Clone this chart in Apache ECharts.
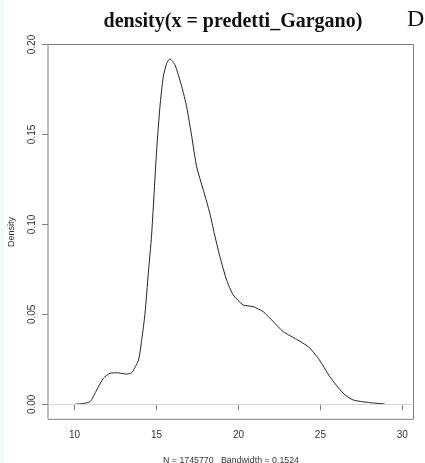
<!DOCTYPE html>
<html>
<head>
<meta charset="utf-8">
<script src="https://cdn.jsdelivr.net/npm/echarts@6/dist/echarts.min.js"></script>
<style>
  html, body { margin: 0; padding: 0; background: #fff; }
  #chart { width: 425px; height: 463px; }
</style>
</head>
<body>
<div id="chart"></div>
<script>
// density curve
var xValues = [10.0, 10.5, 10.95, 11.35, 11.76, 12.16, 12.6, 13.18, 13.49, 13.9, 14.1, 14.3, 14.5, 14.7,
  15.01, 15.21, 15.41, 15.62, 15.82, 16.13, 16.54, 16.84, 17.15, 17.45, 17.86, 18.26, 18.5, 18.87,
  19.28, 19.68, 20.29, 20.9, 21.51, 22.12, 22.73, 23.55, 24.26, 24.87, 25.58, 26.39, 27.0, 28.02, 28.93];
var densityValues = [0.0, 0.0004, 0.0015, 0.0079, 0.0145, 0.0172, 0.0175, 0.0168, 0.0176, 0.0246, 0.036, 0.0506, 0.0728, 0.094,
  0.1414, 0.1654, 0.182, 0.1895, 0.192, 0.1886, 0.1766, 0.1654, 0.1488, 0.132, 0.119, 0.106, 0.096, 0.082,
  0.069, 0.0608, 0.0552, 0.0543, 0.0515, 0.046, 0.0404, 0.0361, 0.032, 0.0256, 0.0153, 0.0061, 0.0024, 0.0009, 0.0002];
var xTicks = [10, 15, 20, 25, 30];
var yTicks = [0, 0.05, 0.1, 0.15, 0.2];

var titleText = "density(x = predetti_Gargano)";
var footText = "N = 1745770   Bandwidth = 0.1524";

var chart = echarts.init(document.getElementById("chart"));

var points = xValues.map(function (x, i) {
  return [x, densityValues[i]];
});

chart.setOption({
  animation: false,
  backgroundColor: "#fff",
  grid: {
    left: 48,
    right: 11.5,
    top: 44.5,
    bottom: 43.7,
    outerBoundsMode: "none",
    containLabel: false,
    show: true,
    borderColor: "#808080",
    borderWidth: 1,
    backgroundColor: "transparent",
  },
  graphic: [
    {
      type: "rect",
      shape: { x: 0, y: 0, width: 4, height: 463 },
      style: { fill: "#eefcf9" },
      silent: true,
    },
    {
      type: "text",
      x: 233,
      y: 22,
      style: {
        text: titleText,
        font: "bold 20px 'Liberation Serif', 'Times New Roman', serif",
        fill: "#111",
        textAlign: "center",
        textVerticalAlign: "middle",
      },
    },
    {
      type: "text",
      x: 407,
      y: 20,
      style: {
        text: "D",
        font: "24px 'Liberation Serif', 'Times New Roman', serif",
        fill: "#111",
        textAlign: "left",
        textVerticalAlign: "middle",
      },
    },
    {
      type: "text",
      x: 231,
      y: 461,
      style: {
        text: footText,
        font: "8.8px 'Liberation Sans', Arial, sans-serif",
        fill: "#333",
        textAlign: "center",
        textVerticalAlign: "middle",
      },
    },
  ],
  xAxis: {
    type: "value",
    min: 8.38,
    max: 30.68,
    axisLine: { show: false },
    splitLine: { show: false },
    axisTick: {
      show: true,
      customValues: xTicks,
      length: 6,
      lineStyle: { color: "#808080" },
    },
    axisLabel: {
      customValues: xTicks,
      margin: 11,
      color: "#333",
      fontSize: 10,
      fontFamily: "Liberation Sans, Arial, sans-serif",
      showMinLabel: true,
      showMaxLabel: true,
    },
  },
  yAxis: {
    type: "value",
    min: -0.00834,
    max: 0.2,
    name: "Density",
    nameLocation: "middle",
    nameRotate: 90,
    nameGap: 32,
    nameTextStyle: {
      color: "#333",
      fontSize: 9,
      fontFamily: "Liberation Sans, Arial, sans-serif",
    },
    axisLine: { show: false },
    splitLine: { show: false },
    axisTick: {
      show: true,
      customValues: yTicks,
      length: 6,
      lineStyle: { color: "#808080" },
    },
    axisLabel: {
      customValues: yTicks,
      rotate: 90,
      margin: 11,
      color: "#333",
      fontSize: 10,
      fontFamily: "Liberation Sans, Arial, sans-serif",
      formatter: function (v) {
        return v.toFixed(2);
      },
    },
  },
  series: [
    {
      type: "line",
      data: points,
      smooth: 0.2,
      showSymbol: false,
      lineStyle: { color: "#222", width: 1 },
      markLine: {
        silent: true,
        symbol: "none",
        label: { show: false },
        lineStyle: { color: "#d8d8d8", type: "solid", width: 1 },
        data: [{ yAxis: 0 }],
      },
      z: 3,
    },
  ],
});
</script>
</body>
</html>
